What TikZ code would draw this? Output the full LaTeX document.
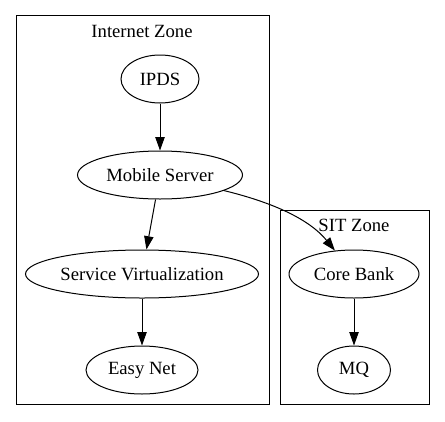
\documentclass[tikz,border=0pt]{standalone}
\usepackage{fontspec}
\setmainfont{Liberation Serif}
\usetikzlibrary{shapes.geometric,arrows.meta}

\begin{document}
\begin{tikzpicture}
 [x=0.75pt,y=-0.75pt,line width=0.75pt,
  every node/.style={font=\fontsize{14}{17}\selectfont,inner sep=0pt},
  svc/.style={ellipse,draw,minimum height=36pt},
  zone/.style={draw},
  link/.style={-{Triangle[length=10pt,width=7pt]}}]
  \useasboundingbox (0,0) rectangle (445,421);

  % clusters
  \draw[zone] (16,15) rectangle (269,404);
  \draw[zone] (280,210) rectangle (429,404);
  \node (inet) at (142,31) {Internet Zone};
  \node (sit) at (354,225) {SIT Zone};

  \node[svc,minimum width=58.5pt] (ipds) at (160,79) {IPDS};
  \node[svc,minimum width=123.75pt] (ms) at (160,175) {Mobile Server};
  \node[svc,minimum width=174.75pt] (sv) at (142,274) {Service Virtualization};
  \node[svc,minimum width=84pt] (en) at (142,370) {Easy Net};
  \node[svc,minimum width=97.5pt] (cb) at (354,274) {Core Bank};
  \node[svc,minimum width=54.75pt] (mq) at (354,370) {MQ};

  \foreach \from/\to in {ipds/ms,ms/sv,sv/en,cb/mq}
    \draw[link] (\from) -- (\to);
  \draw[link] (ms) .. controls (275,203) and (310,220) .. (cb);
\end{tikzpicture}
\end{document}
